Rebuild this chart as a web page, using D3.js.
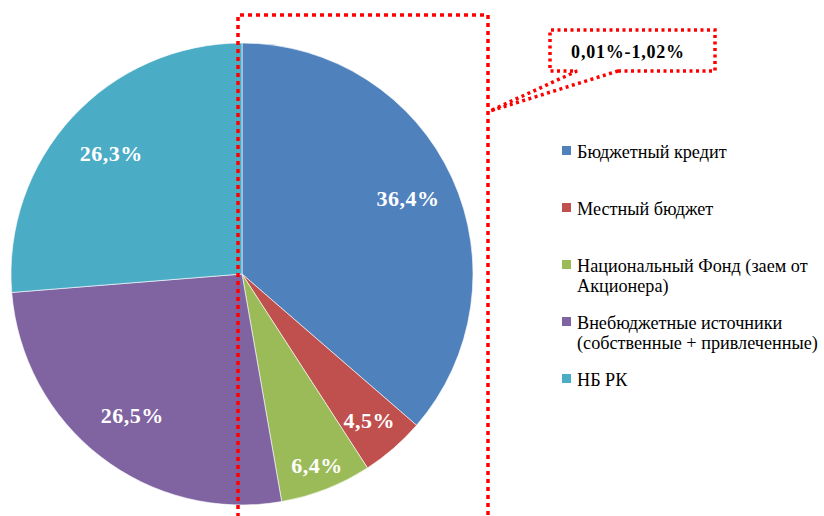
<!DOCTYPE html>
<html>
<head>
<meta charset="utf-8">
<script src="https://cdn.jsdelivr.net/npm/d3@7"></script>
<style>
  body { margin: 0; background: #fff; }
  svg { display: block; }
</style>
</head>
<body>
<div id="chart"></div>
<script>
// data
var categories = [
  'Бюджетный кредит',
  'Местный бюджет',
  'Национальный Фонд (заем от\nАкционера)',
  'Внебюджетные источники\n(собственные + привлеченные)',
  'НБ РК'
];
var shares = [36.4, 4.5, 6.4, 26.5, 26.3];
var shareLabels = ['36,4%', '4,5%', '6,4%', '26,5%', '26,3%'];
var colors = ['#4F81BD', '#C0504D', '#9BBB59', '#8064A2', '#4BACC6'];
var calloutText = '0,01%-1,02%';

var width = 824, height = 516;
var cx = 242, cy = 274, radius = 231;
var fontFamily = '"Liberation Serif", "Times New Roman", serif';
// how far out each value label sits (fraction of radius)
var labelPos = [0.79, 0.84, 0.89, 0.776, 0.77];

var svg = d3.select('#chart').append('svg')
  .attr('width', width)
  .attr('height', height)
  .attr('font-family', fontFamily);

var pie = d3.pie().sort(null).value(function(d) { return d; });
var arc = d3.arc().innerRadius(0).outerRadius(radius);
var arcs = pie(shares);

var g = svg.append('g').attr('transform', 'translate(' + cx + ',' + cy + ')');

g.selectAll('path.slice')
  .data(arcs)
  .enter()
  .append('path')
  .attr('class', 'slice')
  .attr('d', arc)
  .attr('fill', function(d, i) { return colors[i]; })
  .attr('stroke', '#fff')
  .attr('stroke-width', 0.6);

g.selectAll('text.val')
  .data(arcs)
  .enter()
  .append('text')
  .attr('class', 'val')
  .attr('transform', function(d, i) {
    var r = radius * labelPos[i];
    var a = (d.startAngle + d.endAngle) / 2;
    return 'translate(' + (Math.sin(a) * r) + ',' + (-Math.cos(a) * r) + ')';
  })
  .attr('text-anchor', 'middle')
  .attr('dy', '0.35em')
  .attr('fill', '#fff')
  .attr('font-family', fontFamily)
  .attr('font-weight', 'bold')
  .attr('font-size', 22)
  .attr('letter-spacing', 0.5)
  .text(function(d, i) { return shareLabels[i]; });

// dotted frame over the right half
svg.append('path')
  .attr('d', 'M238,525 V15 H488 V525')
  .attr('fill', 'none')
  .attr('stroke', '#ff0000')
  .attr('stroke-width', 3.5)
  .attr('stroke-dasharray', '4,4');

// callout box
svg.append('path')
  .attr('d', 'M618,71 H715 V30 H550 V71 H577 L490,111 Z')
  .attr('fill', '#fff')
  .attr('stroke', '#ff0000')
  .attr('stroke-width', 3.5)
  .attr('stroke-dasharray', '3,3.5');

svg.append('text')
  .attr('x', 628)
  .attr('y', 58)
  .attr('text-anchor', 'middle')
  .attr('font-family', fontFamily)
  .attr('font-weight', 'bold')
  .attr('font-size', 18)
  .attr('letter-spacing', 0.8)
  .text(calloutText);

// legend
var legend = svg.append('g').attr('transform', 'translate(562,158)');
var item = legend.selectAll('g')
  .data(categories)
  .enter()
  .append('g')
  .attr('transform', function(d, i) { return 'translate(0,' + (i * 57) + ')'; });

item.append('rect')
  .attr('x', 0)
  .attr('y', -12)
  .attr('width', 9)
  .attr('height', 9)
  .attr('fill', function(d, i) { return colors[i]; });

item.append('text')
  .attr('font-family', fontFamily)
  .attr('font-size', 18.2)
  .attr('fill', '#000')
  .selectAll('tspan')
  .data(function(d) { return d.split('\n'); })
  .enter()
  .append('tspan')
  .attr('x', 15)
  .attr('y', function(d, j) { return j * 20; })
  .text(function(d) { return d; });
</script>
</body>
</html>
